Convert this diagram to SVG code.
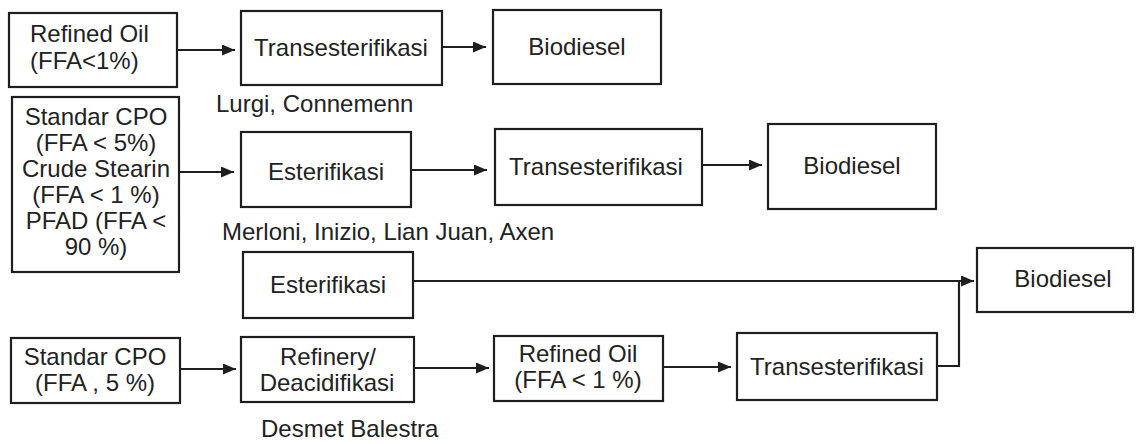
<svg xmlns="http://www.w3.org/2000/svg" width="1136" height="444" viewBox="0 0 1136 444">
<style>
.box{fill:#fff;stroke:#1e1e1e;stroke-width:2.2}
.t{font-family:"Liberation Sans",Arial,sans-serif;font-size:24px;fill:#222;text-anchor:middle}
.l{font-family:"Liberation Sans",Arial,sans-serif;font-size:24px;fill:#222}
.c{fill:none;stroke:#1e1e1e;stroke-width:2.2}
</style>
<defs>
<marker id="ah" markerUnits="userSpaceOnUse" markerWidth="13" markerHeight="11" refX="13" refY="5.5" orient="auto">
<path d="M0,0 L13,5.5 L0,11 z" fill="#1e1e1e"/>
</marker>
</defs>
<rect width="1136" height="444" fill="#fff"/>
<g id="connectors">
<line class="c" x1="177" y1="50" x2="235" y2="50" marker-end="url(#ah)"/>
<line class="c" x1="442" y1="47" x2="486" y2="47" marker-end="url(#ah)"/>
<line class="c" x1="180" y1="172" x2="234" y2="172" marker-end="url(#ah)"/>
<line class="c" x1="411" y1="170" x2="487" y2="170" marker-end="url(#ah)"/>
<line class="c" x1="702" y1="165" x2="762" y2="165" marker-end="url(#ah)"/>
<line class="c" x1="413" y1="281" x2="974" y2="281" marker-end="url(#ah)"/>
<polyline class="c" points="937,366 959,366 959,281"/>
<line class="c" x1="180" y1="369" x2="236" y2="369" marker-end="url(#ah)"/>
<line class="c" x1="414" y1="368" x2="489" y2="368" marker-end="url(#ah)"/>
<line class="c" x1="663" y1="367" x2="731" y2="367" marker-end="url(#ah)"/>
</g>
<g id="refined-oil-1">
<rect class="box" x="9" y="13" width="168" height="74"/>
<text class="l" x="30" y="42">Refined Oil</text>
<text class="l" x="30" y="69">(FFA&lt;1%)</text>
</g>
<g id="trans-1">
<rect class="box" x="241" y="11" width="201" height="74"/>
<text class="t" x="341" y="56">Transesterifikasi</text>
</g>
<g id="biodiesel-1">
<rect class="box" x="493" y="10" width="168" height="74"/>
<text class="t" x="577" y="55">Biodiesel</text>
</g>
<text class="l" x="216" y="112">Lurgi, Connemenn</text>
<g id="feed-2">
<rect class="box" x="12" y="97" width="167" height="175"/>
<text class="t" x="96" y="125">Standar CPO</text>
<text class="t" x="96" y="151">(FFA &lt; 5%)</text>
<text class="t" x="96" y="177">Crude Stearin</text>
<text class="t" x="96" y="203">(FFA &lt; 1 %)</text>
<text class="t" x="96" y="229">PFAD (FFA &lt;</text>
<text class="t" x="96" y="255">90 %)</text>
</g>
<g id="ester-2">
<rect class="box" x="241" y="132" width="170" height="75"/>
<text class="t" x="326" y="180">Esterifikasi</text>
</g>
<g id="trans-2">
<rect class="box" x="495" y="129" width="207" height="76"/>
<text class="t" x="596" y="175">Transesterifikasi</text>
</g>
<g id="biodiesel-2">
<rect class="box" x="768" y="124" width="168" height="85"/>
<text class="t" x="852" y="174">Biodiesel</text>
</g>
<text class="l" x="222" y="240">Merloni, Inizio, Lian Juan, Axen</text>
<g id="ester-3">
<rect class="box" x="243" y="252" width="170" height="66"/>
<text class="t" x="328" y="293">Esterifikasi</text>
</g>
<g id="biodiesel-3">
<rect class="box" x="977" y="248" width="156" height="64"/>
<text class="t" x="1063" y="287">Biodiesel</text>
</g>
<g id="feed-4">
<rect class="box" x="11" y="338" width="169" height="65"/>
<text class="t" x="95" y="365">Standar CPO</text>
<text class="t" x="95" y="391">(FFA , 5 %)</text>
</g>
<g id="refinery-4">
<rect class="box" x="241" y="337" width="173" height="65"/>
<text class="t" x="328" y="365">Refinery/</text>
<text class="t" x="327" y="391">Deacidifikasi</text>
</g>
<g id="refined-oil-4">
<rect class="box" x="494" y="336" width="169" height="65"/>
<text class="t" x="578" y="362">Refined Oil</text>
<text class="t" x="578" y="388">(FFA &lt; 1 %)</text>
</g>
<g id="trans-3">
<rect class="box" x="737" y="333" width="200" height="67"/>
<text class="t" x="837" y="375">Transesterifikasi</text>
</g>
<text class="l" x="261" y="437">Desmet Balestra</text>
</svg>
